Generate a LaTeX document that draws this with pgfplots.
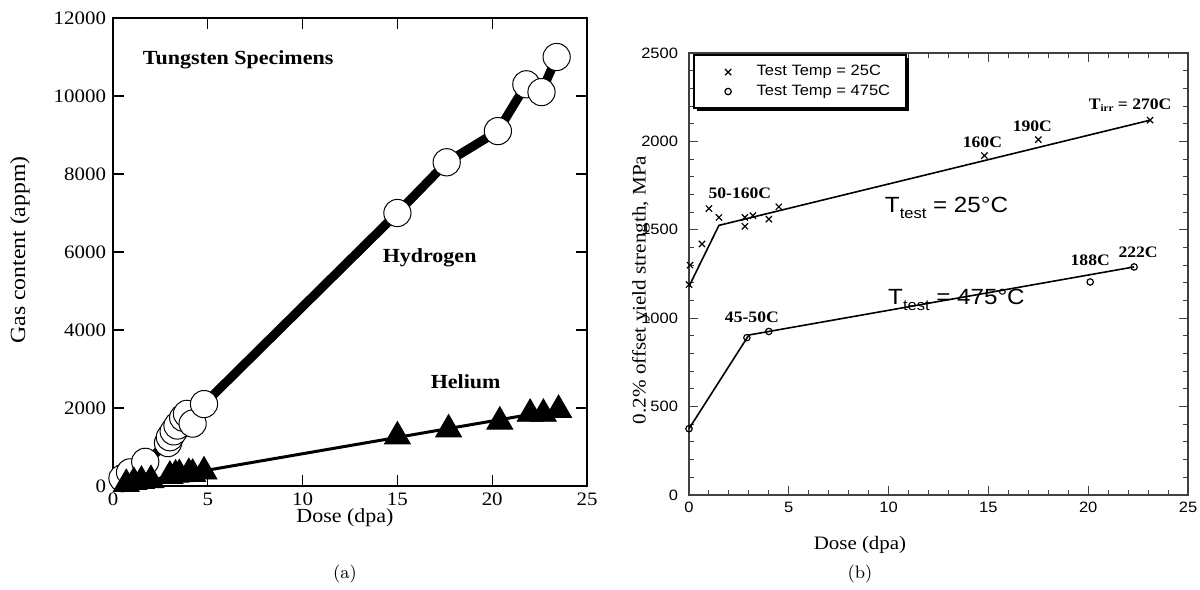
\documentclass[border=0pt]{standalone}
\usepackage{pgfplots}
\pgfplotsset{compat=1.18}
\usepackage{fontspec}
\usetikzlibrary{shadows}
\newfontfamily\tms[FakeStretch=1.1]{Liberation Serif}
\newfontfamily\hlv[FakeStretch=1.1]{Liberation Sans}
\newcommand\fs[1]{\fontsize{#1}{#1}\selectfont}

% Gas content of irradiated tungsten
\pgfplotstableread{
x y
0.5 200
0.9 350
1.7 620
2.9 1100
3.0 1250
3.2 1400
3.4 1550
3.7 1750
3.9 1850
4.2 1600
4.8 2100
15.0 7000
17.6 8300
20.3 9100
21.8 10300
22.6 10100
23.4 11000
}\hydrogen
\pgfplotstableread{
x y
0.7 50
1.1 100
1.5 130
2.0 150
3.0 260
3.3 290
3.5 300
4.0 330
4.2 310
4.8 370
15.0 1270
17.7 1450
20.4 1650
22.0 1850
22.7 1850
23.5 1950
}\helium
% Yield strength after irradiation
\pgfplotstableread{
x y
0.0 1190
0.05 1300
0.65 1420
1.0 1620
1.5 1570
2.8 1570
2.8 1520
3.2 1580
4.0 1560
4.5 1630
14.8 1920
17.5 2010
23.1 2120
}\testlow
\pgfplotstableread{
x y
0.0 375
2.9 890
4.0 925
20.1 1205
22.3 1290
}\testhigh

\begin{document}
\begin{tikzpicture}
\path[use as bounding box] (0bp,0bp) rectangle (600bp,295bp);

\begin{axis}[
  name=left,
  at={(56.5bp,52bp)}, anchor=south west,
  width=237bp, height=234bp, scale only axis,
  xmin=0, xmax=25, ymin=0, ymax=12000,
  xtick={0,5,...,25}, ytick={0,2000,...,12000},
  scaled ticks=false,
  tick align=inside, major tick length=5.5bp,
  axis line style={line width=0.6bp},
  every tick/.style={black, line width=0.6bp},
  /pgf/number format/assume math mode=true,
  /pgf/number format/1000 sep={},
  tick label style={font=\tms\fs{9.5bp}},
  clip=false,
]
\addplot[black, line width=4.5bp, mark=*, mark size=6.8bp,
  mark options={fill=white, draw=black, line width=0.5bp}] table {\hydrogen};
\addplot[black, line width=1.5bp] coordinates {(0.5,30) (23.5,1960)};
\addplot[only marks, black, mark=triangle*, mark size=7.5bp] table {\helium};
\node[font=\tms\bfseries\fs{10bp}] at (axis cs:6.6,10920) {Tungsten Specimens};
\node[font=\tms\bfseries\fs{10bp}] at (axis cs:16.7,5850) {Hydrogen};
\node[font=\tms\bfseries\fs{10bp}] at (axis cs:18.6,2670) {Helium};
\end{axis}

\begin{axis}[
  at={(344.5bp,47.5bp)}, anchor=south west,
  width=249.5bp, height=221bp, scale only axis,
  xmin=0, xmax=25, ymin=0, ymax=2500,
  xtick={0,5,...,25}, ytick={0,500,...,2500},
  minor xtick={0,1,...,25}, minor ytick={0,100,...,2500},
  scaled ticks=false,
  tick align=inside, major tick length=4.5bp, minor tick length=2.5bp,
  axis line style={black!75, line width=0.6bp},
  every tick/.style={black!75, line width=0.5bp},
  /pgf/number format/assume math mode=true,
  /pgf/number format/1000 sep={},
  tick label style={font=\hlv\fs{7.5bp}},
  yticklabel style={xshift=-2bp},
  legend image code/.code={
    \path (0bp,0bp) (23bp,0bp);
    \draw[#1] plot coordinates {(10bp,0bp)};},
  legend style={at={(rel axis cs:0.007,0.997)}, anchor=north west,
    font=\hlv\fs{7.5bp}, draw=black, line width=1bp, fill=white,
    drop shadow={shadow xshift=1.5bp, shadow yshift=-1.5bp, fill=black, opacity=1},
    inner xsep=7bp, inner ysep=4bp, row sep=1bp,
    nodes={inner sep=1bp}, cells={anchor=west}},
  clip=false,
]
\addplot[only marks, black, mark=x, mark size=2.2bp, line width=0.6bp] table {\testlow};
\addlegendentry{Test Temp = 25C}
\addplot[only marks, black, mark=o, mark size=1.6bp, line width=0.6bp] table {\testhigh};
\addlegendentry{Test Temp = 475C}
\addplot[black, line width=0.8bp, forget plot] coordinates {(0,1180) (1.5,1525) (23.1,2120)};
\addplot[black, line width=0.8bp, forget plot] coordinates {(0,375) (3.0,905) (22.3,1290)};
\node[font=\tms\bfseries\fs{8bp}] at (axis cs:2.55,1708) {50-160C};
\node[font=\tms\bfseries\fs{8bp}] at (axis cs:3.15,1007) {45-50C};
\node[font=\tms\bfseries\fs{8bp}] at (axis cs:14.7,1997) {160C};
\node[font=\tms\bfseries\fs{8bp}] at (axis cs:17.2,2087) {190C};
\node[font=\tms\bfseries\fs{8bp}] at (axis cs:22.1,2206) {T\raisebox{-0.35ex}{\fs{5bp}irr} = 270C};
\node[font=\tms\bfseries\fs{8bp}] at (axis cs:20.1,1329) {188C};
\node[font=\tms\bfseries\fs{8bp}] at (axis cs:22.5,1374) {222C};
\node[font=\hlv\fs{11bp}] at (axis cs:12.9,1623) {T\raisebox{-0.55ex}{\fs{7.5bp}test} = 25°C};
\node[font=\hlv\fs{11bp}] at (axis cs:13.4,1103) {T\raisebox{-0.55ex}{\fs{7.5bp}test} = 475°C};
\end{axis}

% axis titles and panel captions
\node[font=\tms\fs{10bp}] at (172.5bp,36bp) {Dose (dpa)};
\node[font=\tms\fs{10.8bp}, rotate=90] at (10bp,170bp) {Gas content (appm)};
\node[font=\tms\fs{9.5bp}] at (430bp,22.5bp) {Dose (dpa)};
\node[font=\tms\fs{9.6bp}, rotate=90] at (320.5bp,150bp) {0.2\% offset yield strength, MPa};
\node[font=\fs{9bp}] at (172.5bp,8bp) {(a)};
\node[font=\fs{9bp}] at (430bp,8bp) {(b)};
\end{tikzpicture}
\end{document}
